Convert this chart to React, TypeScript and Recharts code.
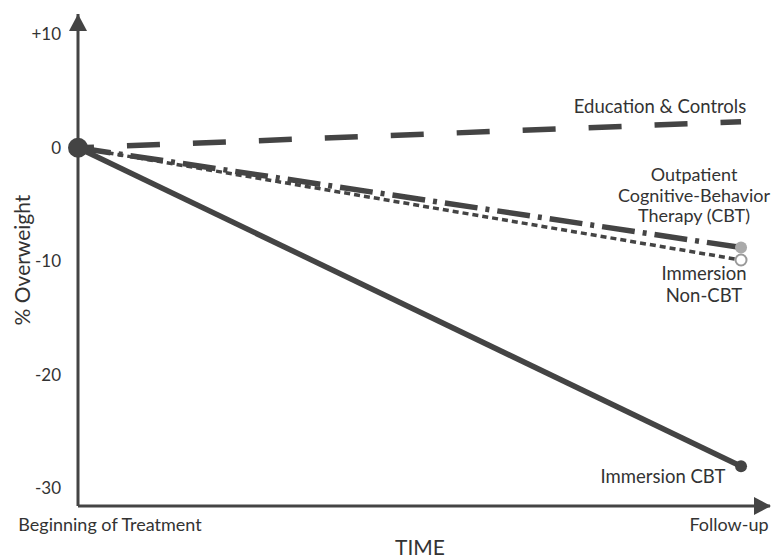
import React from 'react';
import { LineChart, Line, XAxis, YAxis, ReferenceDot } from 'recharts';

const timePoints = [0, 1];
const timeLabels = ['Beginning of Treatment', 'Follow-up'];
const educationControls = [0, 2.3];
const outpatientCBT = [0, -8.8];
const immersionNonCBT = [0, -9.9];
const immersionCBT = [0, -28.1];
const yTicks = [-30, -20, -10, 0, 10];

const data = timePoints.map((t, i) => ({
  t,
  edu: educationControls[i],
  out: outpatientCBT[i],
  non: immersionNonCBT[i],
  imm: immersionCBT[i],
}));

const INK = '#444';
const TXT = '#333';
const FONT = 'Lato, "Open Sans", sans-serif';

const txt = (x: number, y: number, s: string, key?: string, size = 18.5) => (
  <text key={key} x={x} y={y} textAnchor="middle" dominantBaseline="central" fill={TXT} fontSize={size} fontFamily={FONT}>{s}</text>
);

const endLabel = (lines: string[], dx: number, dys: number[], size = 18.5) => (props: any) => {
  if (props.index !== 1) return null;
  return <g>{lines.map((l, i) => txt(props.x + dx, props.y + dys[i], l, String(i), size))}</g>;
};

const XTick = (props: any) => {
  const { x, y, payload, index } = props;
  const i = timePoints.indexOf(payload.value);
  const shift = i === 0 ? 32 : -12;
  return txt(x + shift, y + 10, timeLabels[i], 'xt' + index, 18);
};

const startDot = (props: any) => {
  if (props.index !== 0) return <g key={'s' + props.index} />;
  return <circle key="s0" cx={props.cx} cy={props.cy} r={10} fill={INK} />;
};

export default function App() {
  return (
    <div style={{ position: 'absolute', left: 0, top: 0 }}>
      <LineChart width={772} height={557} data={data} margin={{ top: 14, right: 2, bottom: 0, left: 0 }}>
        <XAxis
          dataKey="t"
          type="number"
          domain={[0, 1.0437]}
          ticks={timePoints}
          tickLine={false}
          axisLine={{ stroke: INK, strokeWidth: 3 }}
          tick={<XTick />}
          height={51}
          label={{
            content: (p: any) => {
              const vb = p.viewBox;
              return txt(vb.x + vb.width / 2 - 4, 546, 'TIME', 'time', 21);
            },
          }}
        />
        <YAxis
          type="number"
          domain={[-31.6, 11.8]}
          ticks={yTicks}
          tickLine={false}
          axisLine={{ stroke: INK, strokeWidth: 3 }}
          width={78}
          tickMargin={11}
          tickFormatter={(v: number) => (v > 0 ? '+' + v : String(v))}
          tick={{ fill: TXT, fontSize: 17, fontFamily: FONT }}
          label={{
            content: () => {
              const cx = 21;
              const cy = 260;
              return (
                <text x={cx} y={cy} transform={`rotate(-90 ${cx} ${cy})`} textAnchor="middle" dominantBaseline="central" fill={TXT} fontSize={21} fontFamily={FONT}>
                  % Overweight
                </text>
              );
            },
          }}
        />
        <Line
          dataKey="edu"
          stroke={INK}
          strokeWidth={5.5}
          strokeDasharray="33 33"
          strokeDashoffset={17}
          dot={false}
          isAnimationActive={false}
          label={endLabel(['Education & Controls'], -81, [-16])}
        />
        <Line
          dataKey="non"
          stroke={INK}
          strokeWidth={3.5}
          strokeDasharray="6 4"
          dot={(p: any) =>
            p.index === 1 ? <circle key="n1" cx={p.cx} cy={p.cy} r={5.5} fill="#fff" stroke="#999" strokeWidth={2} /> : <g key="n0" />
          }
          isAnimationActive={false}
          label={endLabel(['Immersion', 'Non-CBT'], -37, [13, 35])}
        />
        <Line
          dataKey="out"
          stroke={INK}
          strokeWidth={5.5}
          strokeDasharray="33 8 4 8"
          dot={(p: any) =>
            p.index === 1 ? <circle key="o1" cx={p.cx} cy={p.cy} r={6} fill="#aaa" /> : <g key="o0" />
          }
          isAnimationActive={false}
          label={endLabel(['Outpatient', 'Cognitive-Behavior', 'Therapy (CBT)'], -47, [-74, -53, -33], 18)}
        />
        <Line
          dataKey="imm"
          stroke={INK}
          strokeWidth={5.5}
          dot={(p: any) =>
            p.index === 1 ? <circle key="i1" cx={p.cx} cy={p.cy} r={6} fill={INK} /> : <g key="i0" />
          }
          isAnimationActive={false}
          label={endLabel(['Immersion CBT'], -78, [10])}
        />
        <Line dataKey="edu" stroke="none" dot={startDot} isAnimationActive={false} />
        <ReferenceDot
          x={0}
          y={11.8}
          r={0}
          ifOverflow="visible"
          shape={(p: any) => (
            <polygon points={`${p.cx},${p.cy} ${p.cx - 9},${p.cy + 17} ${p.cx + 9},${p.cy + 17}`} fill={INK} />
          )}
        />
        <ReferenceDot
          x={1.0437}
          y={-31.6}
          r={0}
          ifOverflow="visible"
          shape={(p: any) => (
            <polygon points={`${p.cx + 1},${p.cy} ${p.cx - 16},${p.cy - 9} ${p.cx - 16},${p.cy + 9}`} fill={INK} />
          )}
        />
      </LineChart>
    </div>
  );
}
